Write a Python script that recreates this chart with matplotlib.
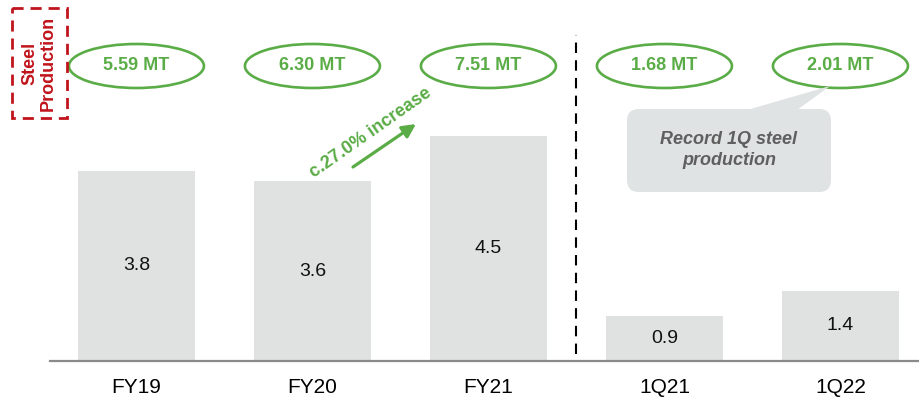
import matplotlib.pyplot as plt
from matplotlib.patches import Ellipse, Rectangle, FancyBboxPatch, Polygon

plt.rcParams['font.family'] = ['Liberation Sans', 'DejaVu Sans']

# steel production per period
categories = ['FY19', 'FY20', 'FY21', '1Q21', '1Q22']
values = [3.8, 3.6, 4.5, 0.9, 1.4]
totals = ['5.59 MT', '6.30 MT', '7.51 MT', '1.68 MT', '2.01 MT']

GREEN = '#5aac46'
RED = '#c0141c'
BAR = '#e0e1e1'

fig = plt.figure(figsize=(9.2, 3.98), dpi=100)
ax = fig.add_axes([50 / 920, 37 / 398, 870 / 920, 361 / 398])

x = list(range(len(categories)))
ax.bar(x, values, width=0.665, color=BAR, zorder=2)
for xi, v in zip(x, values):
    ax.text(xi, v / 2, f'{v:.1f}', ha='center', va='center',
            fontsize=14, color='#111111', zorder=3)

# green ellipses with totals above each bar
for xi, t in zip(x, totals):
    ax.add_patch(Ellipse((xi, 5.9), 0.767, 0.88, fill=False,
                         edgecolor=GREEN, lw=1.9, clip_on=False))
    ax.text(xi, 5.9, t, ha='center', va='center', fontsize=13,
            fontweight='bold', color=GREEN)

# separator between full years and quarters
ax.plot([2.5, 2.5], [0.15, 6.52], color='black', lw=1.5,
        linestyle=(0, (5, 3.5)), clip_on=False)

ax.set_xlim(-0.491, 4.452)
ax.set_ylim(0, 7.22)
ax.set_xticks(x)
ax.set_xticklabels(categories, fontsize=15)
ax.tick_params(axis='x', length=0, pad=12)
ax.set_yticks([])
for s in ['top', 'right', 'left']:
    ax.spines[s].set_visible(False)
ax.spines['bottom'].set_color('#8a8a8a')
ax.spines['bottom'].set_linewidth(1.6)
ax.patch.set_visible(False)

# overlay in pixel units for the callouts
ov = fig.add_axes([0, 0, 1, 1])
ov.set_xlim(0, 920)
ov.set_ylim(398, 0)
ov.axis('off')

ov.add_patch(Rectangle((12, 8), 55, 110, fill=False, edgecolor=RED,
                       lw=2, linestyle=(0, (4, 2.5))))
ov.text(39, 63, 'Steel\nProduction', rotation=90, ha='center', va='center',
        fontsize=13, fontweight='bold', color=RED, linespacing=1.15)

ov.annotate('', xy=(416, 124), xytext=(353, 167),
            arrowprops=dict(arrowstyle='-|>', color=GREEN, lw=2.3,
                            mutation_scale=20, shrinkA=0, shrinkB=0))
ov.text(371, 133, 'c.27.0% increase', rotation=35, ha='center', va='center',
        fontsize=13, fontweight='bold', color=GREEN,
        rotation_mode='anchor')

CALLOUT = '#dfe3e3'
ov.add_patch(FancyBboxPatch((637, 119), 184, 63,
                            boxstyle='round,pad=10,rounding_size=12',
                            facecolor=CALLOUT, edgecolor='none'))
ov.add_patch(Polygon([(747, 110), (830, 86), (797, 110)],
                     closed=True, facecolor=CALLOUT, edgecolor='none'))
ov.text(729, 150, 'Record 1Q steel\nproduction', ha='center', va='center',
        fontsize=13, fontweight='bold', style='italic', color='#5f5f5f',
        linespacing=1.35)

fig.savefig('out.png', dpi=100)
